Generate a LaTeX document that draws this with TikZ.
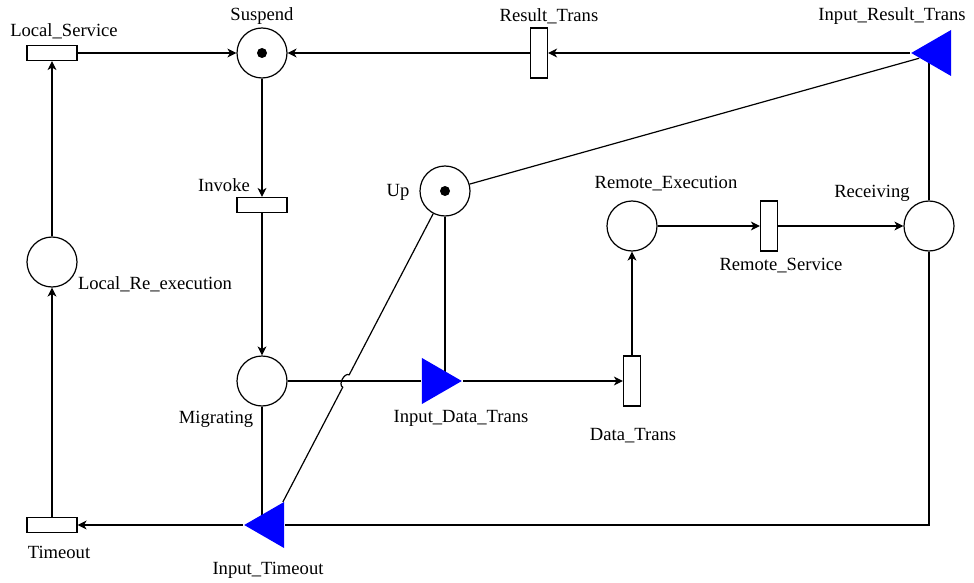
\documentclass[tikz,border=0pt]{standalone}
\usepackage{fontspec}
\setmainfont{Liberation Serif}
\usetikzlibrary{shapes.geometric,calc,backgrounds,arrows.meta}
\tikzset{>={Stealth[length=4.5pt,width=4.5pt,inset=1.3pt]}}
\tikzset{
  place/.style={circle,draw,minimum size=25pt,inner sep=0pt},
  htrans/.style={rectangle,draw,minimum width=25pt,minimum height=7.5pt,inner sep=0pt},
  vtrans/.style={rectangle,draw,minimum width=8.5pt,minimum height=25pt,inner sep=0pt},
  intrans/.style={isosceles triangle,isosceles triangle apex angle=60,fill=blue,minimum size=20pt,inner sep=0pt},
  lbl/.style={font=\fontsize{9.3}{11}\selectfont,inner sep=0pt}
}

\begin{document}
\begin{tikzpicture}[x=0.5pt,y=-0.5pt,semithick]
\useasboundingbox (0,0) rectangle (974,583);
% places
\node[place] (susp) at (262,53) {};
\node[place] (up) at (445,191) {};
\node[place] (rexec) at (632,226) {};
\node[place] (recv) at (929,226) {};
\node[place] (lreex) at (52,262) {};
\node[place] (mig) at (262,381) {};
% transitions
\node[htrans] (lserv) at (52,53) {};
\node[vtrans] (rtrans) at (539,53) {};
\node[htrans] (invoke) at (262,205) {};
\node[vtrans] (rserv) at (769,226) {};
\node[vtrans] (dtrans) at (632,381) {};
\node[htrans] (tout) at (52,525) {};
\node[intrans,shape border rotate=180,anchor=apex] (irt) at (910,53) {};
\node[intrans,anchor=apex] (idt) at (463,381) {};
\node[intrans,shape border rotate=180,anchor=apex] (itout) at (243,525) {};
% tokens
\fill (susp) circle[radius=2.5pt];
\fill (up) circle[radius=2.5pt];
% labels
\node[lbl] (t-lserv) at (64,31) {Local\_Service};
\node[lbl] (t-susp) at (262,16) {Suspend};
\node[lbl] (t-rtrans) at (549,16) {Result\_Trans};
\node[lbl] (t-irt) at (892,16) {Input\_Result\_Trans};
\node[lbl] (t-invoke) at (224,185) {Invoke};
\node[lbl] (t-up) at (398,192) {Up};
\node[lbl] (t-rexec) at (666,184) {Remote\_Execution};
\node[lbl] (t-recv) at (872,193) {Receiving};
\node[lbl] (t-rserv) at (781,266) {Remote\_Service};
\node[lbl] (t-lreex) at (155,284) {Local\_Re\_execution};
\node[lbl] (t-mig) at (216,419) {Migrating};
\node[lbl] (t-idt) at (461,418) {Input\_Data\_Trans};
\node[lbl] (t-dtrans) at (633,436) {Data\_Trans};
\node[lbl] (t-tout) at (59,552) {Timeout};
\node[lbl] (t-itout) at (268,570) {Input\_Timeout};
% arcs
\coordinate (hop) at (intersection of up--itout and mig--idt);
\begin{scope}[on background layer]
\draw[semithick] (recv) -- (recv |- irt);
\draw[semithick] (up) -- (up |- idt);
\draw[semithick] (mig) -- (mig |- itout);
\end{scope}
\draw[->] (lserv) -- (susp);
\draw[->] (rtrans) -- (susp);
\draw[->] (irt) -- (rtrans);
\draw (irt) -- (up);
\draw[->] (susp) -- (invoke);
\draw[->] (invoke) -- (mig);
\draw (mig) -- (idt);
\draw[->] (idt) -- (dtrans);
\draw[->] (dtrans) -- (rexec);
\draw[->] (rexec) -- (rserv);
\draw[->] (rserv) -- (recv);
\draw (recv) |- (itout);
\draw[->] (itout) -- (tout);
\draw[->] (tout) -- (lreex);
\draw[->] (lreex) -- (lserv);
\draw (up) -- ($(hop)!3.5pt!(up)$) to[bend right=90] ($(hop)!3.5pt!(itout)$) -- (itout);
\end{tikzpicture}
\end{document}
